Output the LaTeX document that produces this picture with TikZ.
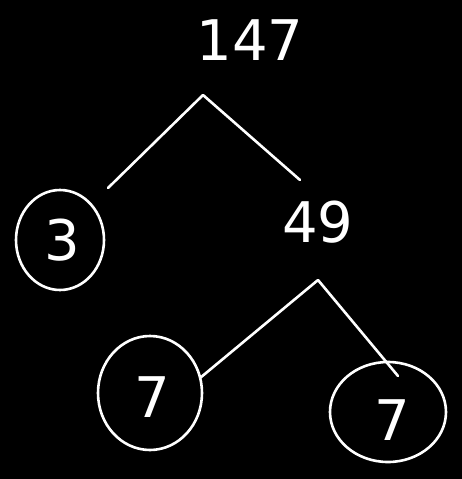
\documentclass[tikz,border=0pt]{standalone}
\usepackage{fontspec}
\setmainfont{DejaVu Sans}
\begin{document}
\begin{tikzpicture}[x=1pt,y=-1pt,
  chalk/.style={draw=white,line width=2.6pt,line cap=round,line join=round},
  num/.style={text=white,font=\fontsize{56}{56}\selectfont},
  ring/.style={chalk,ellipse}]
\fill[black] (0,0) rectangle (462,479);
\useasboundingbox (0,0) rectangle (462,479);
\node[num] (n147) at (250,40) {147};
\node[num] (n3) at (62,240) {3};
\node[num] (n49) at (318,222) {49};
\node[num] (n7a) at (152,397) {7};
\node[num] (n7b) at (392,420) {7};
\draw[chalk] (60,240) ellipse [x radius=44, y radius=50];
\draw[chalk] (150,393) ellipse [x radius=52, y radius=57];
\draw[chalk] (388,412) ellipse [x radius=58, y radius=50];
\coordinate (a1) at (203,95);
\coordinate (l1) at (108,188);
\coordinate (r1) at (300,180);
\coordinate (a2) at (318,280);
\coordinate (l2) at (200,378);
\coordinate (r2) at (398,376);
\draw[chalk] (l1) -- (a1) -- (r1);
\draw[chalk] (l2) -- (a2) -- (r2);
\end{tikzpicture}
\end{document}
